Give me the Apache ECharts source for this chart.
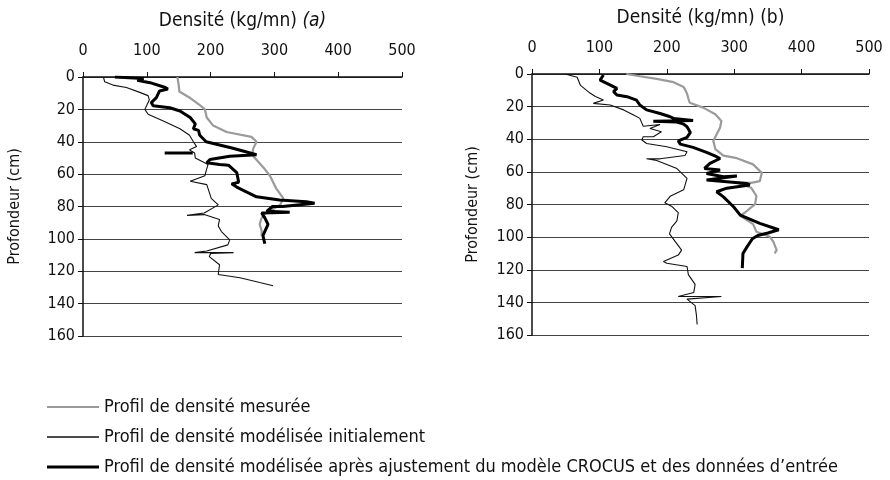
<!DOCTYPE html>
<html>
<head>
<meta charset="utf-8">
<script src="https://cdn.jsdelivr.net/npm/echarts@6/dist/echarts.min.js"></script>
<style>
  html, body { margin: 0; padding: 0; background: #fff; }
  #chart { width: 890px; height: 480px; }
</style>
</head>
<body>
<div id="chart"></div>
<script>
// [densité, profondeur]
const measuredA = [[148,0],[150,5],[151,9],[168,13],[182,17],[191,20],[194,25],[204,30],[225,34],[264,37],[272,40],[267,44],[265,48],[274,52],[283,56],[293,61],[298,65],[303,69],[314,75],[309,79],[296,82],[283,85],[279,88],[277,91],[280,95],[280,98]];
const initialA = [[32,0],[34,3],[47,5],[68,6.5],[89,9.5],[102,11.5],[104,14],[100,17.5],[97,20],[102,23],[125,27],[152,32],[167,36],[173,40],[178,43],[167,45],[175,47],[176,50],[196,54],[193,58],[191,61],[168,64.4],[194,66.5],[201,75],[212,79],[190,84],[163,85.5],[190,85],[214,88],[212,92],[217,95.5],[230,100.6],[227,103.7],[194,107.5],[175,108.5],[236,108.5],[200,109],[198,111],[214,116],[212,122],[246,124],[277,127],[298,129]];
const adjustedA = [[50,0],[95,1],[85,2],[105,3.5],[102,4],[129,6.5],[133,7.5],[120,8.6],[115,12.7],[107,15.8],[110,17.8],[136,19],[152,21],[168,25],[176,29],[173,32],[181,33],[183,36],[193,40],[235,44],[272,48],[230,49],[199,51],[194,53],[214,54],[228,54.5],[241,59],[244,65],[233,66],[241,68],[256,71],[272,74],[308,76],[350,77],[363,78],[313,80],[297,80],[288,83],[324,83.5],[280,84],[285,87],[290,91],[282,98],[285,103],['-','-'],[128,47],[172,47]];

const measuredB = [[140,0],[160,1.4],[185,3],[210,5],[225,8],[230,12],[232,15],[234,17.6],[254,20.6],[272,24.7],[281,28.8],[279,32.9],[274,37],[269,41],[272,46],[284,50],[304,51.6],[328,55.4],[341,60.6],[338,65.7],[325,66.7],[304,66.7],[325,69.7],[333,74.8],[331,79.8],[316,84.9],[309,86.9],[328,92],[333,96.7],[353,99.8],[358,102.8],[363,108],[360,110]];
const initialB = [[49,0],[67,2],[72,7],[86,11.7],[94,13.8],[106,15.9],[91,18],[89,19],[116,19],[136,22],[150,25],[160,27.2],[165,32],[190,31],[175,33.4],[192,35.4],[180,38.5],[165,38.5],[163,40.5],[170,42.6],[200,44.6],[230,47.7],[227,50],[190,52],[170,52],[185,53],[215,58],[230,64],[225,71],[205,75],[197,79],[207,81],[217,85],[215,90],[207,94],[204,98],[222,108],[217,111],[195,115],[200,116],[230,118],[232,123],[242,129],[240,134],[217,136.4],[281,136.4],[230,138],[242,142],[244,148],[245,153.6]];
const adjustedB = [[106,0.6],[101,3.7],[111,5.7],[126,8.8],[121,10.8],[126,12.9],[141,13.9],[155,16],[160,19],[170,22],[190,24.2],[205,26.2],[210,27.2],[239,28.5],[180,29],[215,29.5],[225,30.7],[230,32.3],[235,35.8],[230,38.9],[217,41],[220,43],[239,45],[259,48],[274,50.7],[279,51.8],[264,54.8],[256,57.9],[279,58.9],[259,61],[284,63],[304,62.5],[259,65],[319,67.1],[323,68],[289,70],[274,72.2],[284,75.3],[299,81.4],[309,86.5],[338,91.6],[366,95.5],[350,97.5],[335,99],[327,101],[319,106],[313,110],[312,119]];

const seriesNames = ['Profil de densité mesurée', 'Profil de densité modélisée initialement', 'Profil de densité modélisée après ajustement du modèle CROCUS et des données d\u2019entrée'];
const xTicks = [0, 500, 100];   // min, max, interval
const yTicks = [0, 160, 20];

const font = "'Liberation Sans Narrow', 'DejaVu Sans Condensed', 'Liberation Sans', sans-serif";

function xAxis(idx, title) {
  return {
    gridIndex: idx, type: 'value', position: 'top',
    min: xTicks[0], max: xTicks[1], interval: xTicks[2],
    name: title, nameLocation: 'middle', nameGap: 46,
    nameTextStyle: { fontFamily: font, fontSize: 19, color: '#111', rich: { i: { fontFamily: font, fontSize: 19, fontStyle: 'italic', color: '#111' } } },
    axisLine: { show: true, lineStyle: { color: '#111', width: 1.5 } },
    axisTick: { show: true, length: 5, lineStyle: { color: '#111' } },
    axisLabel: { margin: 18, fontFamily: font, fontSize: 16, color: '#111' },
    splitLine: { show: false }
  };
}
function yAxis(idx, gap) {
  return {
    gridIndex: idx, type: 'value', inverse: true,
    min: yTicks[0], max: yTicks[1], interval: yTicks[2],
    name: 'Profondeur (cm)', nameLocation: 'middle', nameRotate: 90, nameGap: gap,
    nameTextStyle: { fontFamily: font, fontSize: 16, color: '#111' },
    axisLine: { show: true, lineStyle: { color: '#111', width: 1.5 } },
    axisTick: { show: true, length: 5, lineStyle: { color: '#111' } },
    axisLabel: { margin: 8, fontFamily: font, fontSize: 16, color: '#111' },
    splitLine: { show: true, lineStyle: { color: '#444', width: 1 } }
  };
}
function line(name, data, idx, color, width) {
  return {
    name: name, type: 'line', xAxisIndex: idx, yAxisIndex: idx,
    data: data, symbol: 'none', smooth: false, connectNulls: false,
    lineStyle: { color: color, width: width }, itemStyle: { color: color },
    animation: false, z: width > 2.5 ? 4 : 3
  };
}

const chart = echarts.init(document.getElementById('chart'));
chart.setOption({
  animation: false,
  backgroundColor: '#fff',
  grid: [
    { left: 83, top: 77, width: 319, height: 259 },
    { left: 532, top: 74, width: 337, height: 261 }
  ],
  xAxis: [xAxis(0, 'Densité (kg/mn) {i|(a)}'), xAxis(1, 'Densité (kg/mn) (b)')],
  yAxis: [yAxis(0, 60), yAxis(1, 51)],
  legend: {
    orient: 'vertical', left: 47, top: 398, padding: 0, itemGap: 12,
    itemWidth: 52, itemHeight: 18,
    textStyle: { fontFamily: font, fontSize: 18, lineHeight: 18, color: '#111' },
    data: [
      { name: seriesNames[0], icon: 'path://M0,0H52V2.2H0Z' },
      { name: seriesNames[1], icon: 'path://M0,0H52V1.6H0Z' },
      { name: seriesNames[2], icon: 'path://M0,0H52V3H0Z' }
    ]
  },
  series: [
    line(seriesNames[0], measuredA, 0, '#9a9a9a', 2.2),
    line(seriesNames[1], initialA, 0, '#111', 1.1),
    line(seriesNames[2], adjustedA, 0, '#000', 3),
    line(seriesNames[0], measuredB, 1, '#9a9a9a', 2.2),
    line(seriesNames[1], initialB, 1, '#111', 1.1),
    line(seriesNames[2], adjustedB, 1, '#000', 3)
  ]
});
</script>
</body>
</html>
